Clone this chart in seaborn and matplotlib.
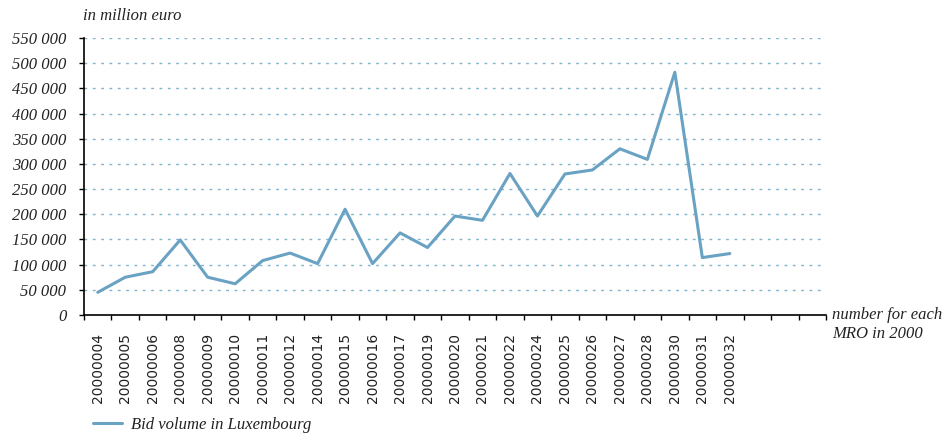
import matplotlib
matplotlib.use("Agg")
import matplotlib.pyplot as plt
import seaborn as sns
import pandas as pd
import numpy as np

mro_labels = ["20000004", "20000005", "20000006", "20000008", "20000009", "20000010",
              "20000011", "20000012", "20000014", "20000015", "20000016", "20000017",
              "20000019", "20000020", "20000021", "20000022", "20000024", "20000025",
              "20000026", "20000027", "20000028", "20000030", "20000031", "20000032"]
bid_volume = [45000, 75000, 86000, 149000, 75000, 62000, 108000, 123000, 102000,
              210000, 102000, 163000, 134000, 196500, 188000, 281000, 196500, 280000,
              288000, 330000, 309000, 482000, 114000, 122000]
empty_slots = 3
y_ticks = list(range(0, 550001, 50000))
series_name = "Bid volume in Luxembourg"

sns.set_theme(style="white")
plt.rcParams['font.family'] = ['Liberation Serif', 'DejaVu Serif']

df = pd.DataFrame({"pos": np.arange(len(mro_labels)), "value": bid_volume})

fig = plt.figure(figsize=(9.49, 4.37), dpi=100)
ax = fig.add_axes([84/949, 1-315/437, (826-84)/949, (315-38)/437])

line_color = "#6aa2c3"
sns.lineplot(data=df, x="pos", y="value", ax=ax, color=line_color, linewidth=2.2,
             label=series_name, legend=False)

n_slots = len(mro_labels) + empty_slots
ax.set_xlim(-0.5, n_slots - 0.5)
ax.set_ylim(0, 550000)

for v in y_ticks[1:]:
    ax.axhline(v, color="#7fb3d0", linestyle=(0, (2, 4)), linewidth=1.0, zorder=0)

ax.set_yticks(y_ticks)
ax.set_yticklabels([f"{v:,}".replace(",", " ") for v in y_ticks],
                   fontstyle="italic", fontsize=12, color="#222222")
ax.tick_params(axis="y", length=3.6, width=1, color="black", pad=9, left=True)

ax.set_xticks(np.arange(len(mro_labels)))
ax.set_xticklabels(mro_labels, rotation=90, fontsize=10, fontfamily="DejaVu Sans",
                   color="#222222")
ax.set_xticks(np.arange(n_slots + 1) - 0.5, minor=True)
ax.tick_params(axis="x", which="major", length=0, pad=13)
ax.tick_params(axis="x", which="minor", length=3.6, width=1, color="black", bottom=True)

for s in ["top", "right"]:
    ax.spines[s].set_visible(False)
for s in ["left", "bottom"]:
    ax.spines[s].set_color("black")
    ax.spines[s].set_linewidth(1.2)

ax.set_xlabel("")
ax.set_ylabel("")

fig.text(83/949, 1-16/437, "in million euro", fontstyle="italic", fontsize=12,
         color="#222222", va="center", ha="left")
fig.text(832/949, 1-315/437, "number for each", fontstyle="italic", fontsize=12,
         color="#222222", va="center", ha="left")
fig.text(832/949, 1-334/437, "MRO in 2000", fontstyle="italic", fontsize=12,
         color="#222222", va="center", ha="left")

handles, labels = ax.get_legend_handles_labels()
leg = fig.legend(handles, labels, loc="center left", bbox_to_anchor=(93/949, 1-425/437),
                 frameon=False, prop={"style": "italic", "size": 12}, handlelength=1.75,
                 handletextpad=0.55, borderpad=0, borderaxespad=0)
for t in leg.get_texts():
    t.set_color("#222222")

fig.savefig("out.png", dpi=100)
